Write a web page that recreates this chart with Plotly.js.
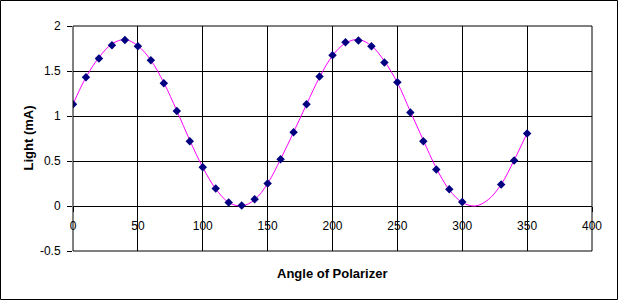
<!DOCTYPE html>
<html>
<head>
<meta charset="utf-8">
<script src="https://cdn.plot.ly/plotly-3.0.1.min.js"></script>
<style>html,body{margin:0;padding:0;background:#fff;}#chart{width:619px;height:301px;}</style>
</head>
<body>
<div id="chart"></div>
<script>
// Measured points (angle in degrees, light in mA)
var angles = [0,10,20,30,40,50,60,70,80,90,100,110,120,130,140,150,160,170,180,190,200,210,220,230,240,250,260,270,280,290,300,330,340,350];
var light  = [1.13,1.43,1.64,1.785,1.845,1.775,1.62,1.365,1.055,0.72,0.43,0.195,0.04,0.005,0.075,0.25,0.52,0.82,1.13,1.44,1.675,1.82,1.84,1.775,1.595,1.375,1.04,0.72,0.405,0.185,0.045,0.24,0.505,0.805];
// Fitted curve
var fitAngles = [0,10,20,30,40,50,60,70,80,90,100,110,120,130,140,150,160,170,180,190,200,210,220,230,240,250,260,270,280,290,300,310,320,330,340,350];
var fitLight  = [1.13,1.43,1.65,1.80,1.85,1.78,1.62,1.37,1.06,0.73,0.43,0.19,0.04,0.00,0.07,0.25,0.52,0.82,1.13,1.43,1.67,1.81,1.85,1.78,1.61,1.37,1.05,0.73,0.42,0.18,0.04,0.00,0.07,0.24,0.51,0.81];
var xTicks = [0,50,100,150,200,250,300,350,400];
var yTicks = [-0.5,0,0.5,1,1.5,2];

var W = 619, H = 301, L = 73, R = 27, T = 26, B = 50;
var pw = W - L - R, ph = H - T - B;
function px2paperX(p){ return (p - L) / pw; }
function px2paperY(p){ return (H - B - p) / ph; }

var font = "Arial, 'Liberation Sans', sans-serif";
var data = [
  {x: fitAngles, y: fitLight, type: 'scatter', mode: 'lines',
   line: {color: '#FF00FF', width: 1, shape: 'spline', smoothing: 1}, hoverinfo: 'skip'},
  {x: angles, y: light, type: 'scatter', mode: 'markers',
   marker: {symbol: 'diamond', size: 6.5, color: '#000080', line: {width: 0}}}
];
var layout = {
  width: W, height: H,
  margin: {l: L, r: R, t: T, b: B, pad: 0},
  paper_bgcolor: '#fff', plot_bgcolor: '#fff',
  showlegend: false,
  font: {family: font, size: 12, color: '#000'},
  xaxis: {
    range: [0, 400], tickvals: xTicks, ticktext: xTicks.map(String),
    showgrid: true, gridcolor: '#000', gridwidth: 1,
    zeroline: false, showline: false,
    anchor: 'free', position: (0 - (-0.5)) / 2.5,
    ticks: 'outside', ticklen: 5, tickcolor: '#000', tickwidth: 1,
    ticklabelstandoff: 4,
    tickfont: {family: font, size: 12, color: '#000'}
  },
  yaxis: {
    range: [-0.5, 2], tickvals: yTicks, ticktext: ['-0.5','0','0.5','1','1.5','2'],
    showgrid: true, gridcolor: '#000', gridwidth: 1,
    zeroline: true, zerolinecolor: '#000', zerolinewidth: 1, showline: false,
    ticks: 'outside', ticklen: 5, tickcolor: '#000', tickwidth: 1,
    ticklabelstandoff: 4,
    tickfont: {family: font, size: 12, color: '#000'}
  },
  shapes: [
    {type: 'rect', xref: 'paper', yref: 'paper', x0: 0, x1: 1, y0: 0, y1: 1,
     line: {color: '#000', width: 1}, fillcolor: 'rgba(0,0,0,0)'},
    {type: 'rect', xref: 'paper', yref: 'paper',
     x0: px2paperX(0.5), x1: px2paperX(617.5), y0: px2paperY(299.5), y1: px2paperY(0.5),
     line: {color: '#000', width: 1}, fillcolor: 'rgba(0,0,0,0)'}
  ],
  annotations: [
    {text: '<b>Angle of Polarizer</b>', xref: 'paper', yref: 'paper',
     x: px2paperX(332.5), y: px2paperY(273), xanchor: 'center', yanchor: 'middle',
     showarrow: false, font: {family: font, size: 13, color: '#000'}},
    {text: '<b>Light (mA)</b>', xref: 'paper', yref: 'paper',
     x: px2paperX(28), y: px2paperY(138.5), xanchor: 'center', yanchor: 'middle',
     textangle: -90, showarrow: false, font: {family: font, size: 13, color: '#000'}}
  ]
};
Plotly.newPlot('chart', data, layout, {staticPlot: true, displayModeBar: false});
</script>
</body>
</html>
